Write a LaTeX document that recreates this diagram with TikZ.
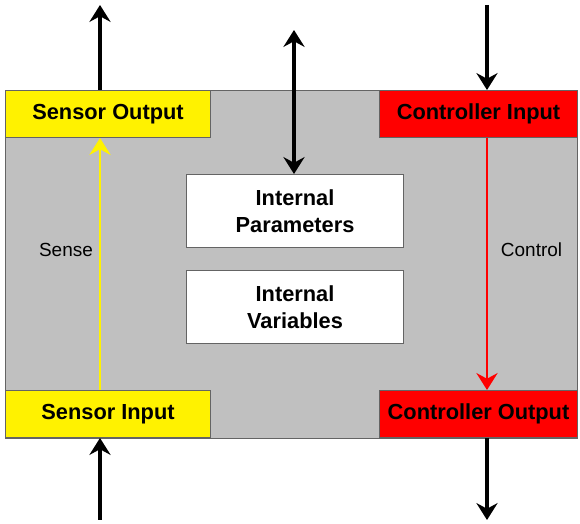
\documentclass[tikz,border=0pt]{standalone}
\usepackage{fontspec}
\setmainfont{Liberation Sans}
\usetikzlibrary{arrows.meta}

\definecolor{panelgray}{RGB}{192,192,192}
\definecolor{edgegray}{RGB}{100,100,100}

\begin{document}
\begin{tikzpicture}[x=0.025cm, y=-0.025cm,
		port/.style={draw=edgegray, line width=0.7pt, anchor=north west, inner sep=0pt,
			minimum height=1.175cm, font=\fontsize{15.5}{19}\selectfont\bfseries},
		inner/.style={draw=edgegray, fill=white, line width=0.7pt, anchor=north west, inner sep=0pt,
			minimum width=5.425cm, minimum height=1.825cm, align=center,
			font=\fontsize{15.5}{19}\selectfont\bfseries},
		ext/.style={line width=2.5pt, -{Stealth[length=12pt, width=15pt, inset=4pt]}},
		flow/.style={line width=2pt, -{Stealth[length=12pt, width=15pt, inset=4pt]}},
		tag/.style={font=\fontsize{13.5}{16}\selectfont}]
	
	\useasboundingbox (0,0) rectangle (580,524);
	
	% Block
	\filldraw[fill=panelgray, draw=edgegray, line width=0.7pt] (5,90) rectangle (577,438);
	
	% Ports
	\node[port, fill=yellow, minimum width=5.125cm] (sout) at (5,90) {Sensor Output};
	\node[port, fill=red, minimum width=4.95cm] (cin) at (379,90) {Controller Input};
	\node[port, fill=yellow, minimum width=5.125cm] (sin) at (5,390) {Sensor Input};
	\node[port, fill=red, minimum width=4.95cm] (cout) at (379,390) {Controller Output};
	
	% Internals
	\node[inner] (par) at (186,174) {Internal\\Parameters};
	\node[inner] (var) at (186,270) {Internal\\Variables};
	
	% Free ends
	\coordinate (souttop) at (100,5);
	\coordinate (partop) at (294,30);
	\coordinate (cintop) at (487,5);
	\coordinate (sinbot) at (100,520);
	\coordinate (coutbot) at (487,520);
	
	% External arrows
	\draw[ext] (souttop |- sout.north) -- (souttop);
	\draw[ext, {Stealth[length=12pt, width=15pt, inset=4pt]}-{Stealth[length=12pt, width=15pt, inset=4pt]}] (partop) -- (par.north -| partop);
	\draw[ext] (cintop) -- (cintop |- cin.north);
	\draw[ext] (sinbot) -- (sinbot |- sin.south);
	\draw[ext] (coutbot |- cout.south) -- (coutbot);
	
	% Sense and control
	\draw[flow, yellow] (souttop |- sin.north) -- (souttop |- sout.south);
	\draw[flow, red] (cintop |- cin.south) -- (cintop |- cout.north);
	\node[tag] (sense) at (66,250) {Sense};
	\node[tag, anchor=west] (control) at (496,250) {Control};
	
\end{tikzpicture}
\end{document}
